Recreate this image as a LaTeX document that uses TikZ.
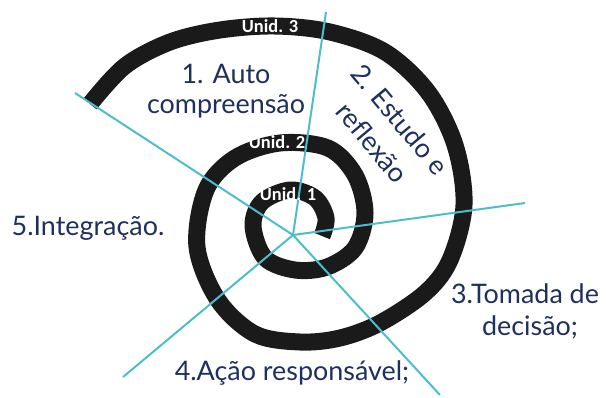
\documentclass[tikz,border=0pt]{standalone}
\usepackage{fontspec}
\setmainfont{Lato}
\newfontfamily\unidfont{Carlito}
\definecolor{navy}{RGB}{31,47,94}
\definecolor{cyanline}{RGB}{75,190,205}
\definecolor{spiralblack}{RGB}{26,26,26}
\begin{document}
\begin{tikzpicture}[x=1bp,y=-1bp,
  band/.style={line width=17bp, draw=spiralblack},
  ray/.style={line width=2bp, draw=cyanline},
  lbl/.style={text=navy, font=\fontsize{27}{31}\selectfont, inner sep=0pt},
  unid/.style={text=white, font=\unidfont\bfseries\fontsize{18.5}{20}\selectfont, inner sep=0pt}]
\useasboundingbox (0,0) rectangle (609,397);
\draw[band] plot[smooth, tension=0.55] coordinates {
 (90,104) (125,66) (170,42) (220,30) (275,26) (330,32) (385,52) (428,92)
 (455,145) (464,205) (450,260) (425,293) (380,323) (340,338) (300,342)
 (255,334) (218,300) (197,247) (206,190) (235,158) (280,143) (328,148)
 (355,175) (365,213) (355,248) (327,267) (295,270) (265,258) (253,226)
 (262,202) (290,190) (315,198) (326,218) (322,236)};
\coordinate (hub) at (293,235);
\coordinate (e1) at (75,93);
\coordinate (e2) at (326,12);
\coordinate (e3) at (525,203);
\coordinate (e4) at (440,395);
\coordinate (e5) at (123,377);
\draw[ray] (hub) -- (e1);
\draw[ray] (hub) -- (e2);
\draw[ray] (hub) -- (e3);
\draw[ray] (hub) -- (e4);
\draw[ray] (hub) -- (e5);
\node[unid, anchor=base] (u3) at (270,32) {Unid. 3};
\node[unid, anchor=base] (u2) at (277,148) {Unid. 2};
\node[unid, anchor=base] (u1) at (288,200) {Unid. 1};
\node[lbl, anchor=base] (t1a) at (226,83) {1. Auto};
\node[lbl, anchor=base] (t1b) at (226,113) {compreensão};
\node[lbl, align=center, rotate=-50, font=\fontsize{27}{36}\selectfont] (t2) at (386,131) {2. Estudo e\\reflexão};
\node[lbl, anchor=base] (t3a) at (525,303) {3.Tomada de};
\node[lbl, anchor=base] (t3b) at (530,335) {decisão;};
\node[lbl, anchor=base] (t4) at (292,380) {4.Ação responsável;};
\node[lbl, anchor=base] (t5) at (88,235) {5.Integração.};
\end{tikzpicture}
\end{document}
